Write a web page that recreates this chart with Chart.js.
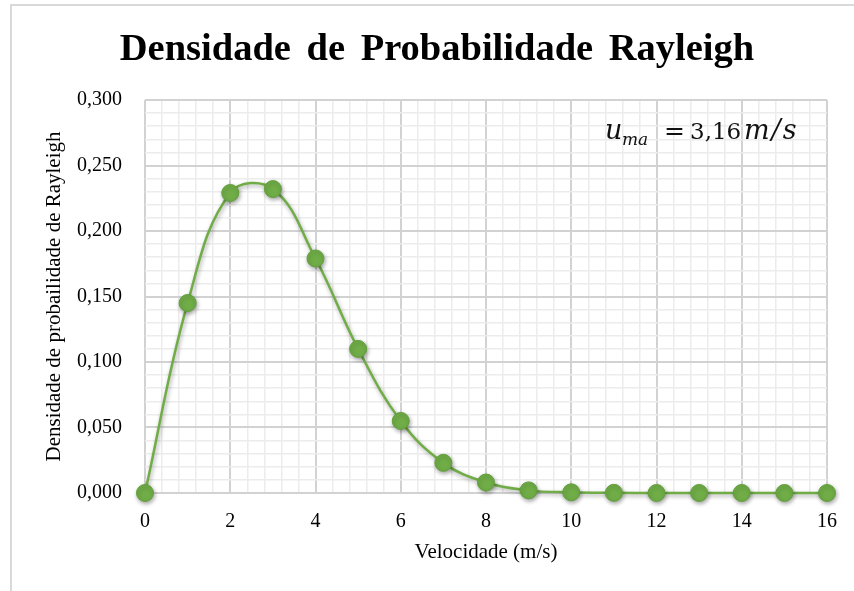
<!DOCTYPE html>
<html>
<head>
<meta charset="utf-8">
<script src="https://cdn.jsdelivr.net/npm/chart.js@4.4.1/dist/chart.umd.min.js"></script>
<style>
  html, body { margin: 0; padding: 0; background: #fff; }
  #wrap { position: relative; width: 854px; height: 591px; overflow: hidden; }
  #frame { position: absolute; left: 10px; top: 4px; width: 900px; height: 700px;
           border-top: 2px solid #d9d9d9; border-left: 2px solid #d9d9d9; }
  #rayleigh { position: absolute; left: 0; top: 0; }
</style>
</head>
<body>
<div id="wrap">
  <div id="frame"></div>
  <canvas id="rayleigh" width="854" height="591"></canvas>
</div>
<script>
// ---- Data ----
const velocities = [0, 1, 2, 3, 4, 5, 6, 7, 8, 9, 10, 11, 12, 13, 14, 15, 16];
const densities = [0.000, 0.145, 0.229, 0.232, 0.179, 0.110, 0.055, 0.023, 0.008, 0.002,
                   0.0005, 0.0001, 0.000, 0.000, 0.000, 0.000, 0.000];
const xTickLabels = ['0', '2', '4', '6', '8', '10', '12', '14', '16'];
const yTickLabels = ['0,000', '0,050', '0,100', '0,150', '0,200', '0,250', '0,300'];

const GREEN = '#70AD47';
const serif = '"Liberation Serif", "Times New Roman", serif';
const mathFont = '"DejaVu Serif", serif';

// ---- Helpers for major / minor grid ----
function isMajorX(v) { return Math.round(v * 10) % 20 === 0; }
function isMajorY(v) { return Math.round(v * 1000) % 50 === 0; }

// ---- Chart title ----
const titlePlugin = {
    id: 'chartHeading',
    afterDraw(chart) {
        const ctx = chart.ctx;
        ctx.save();
        ctx.font = 'bold 38.5px ' + serif;
        ctx.fillStyle = '#000';
        ctx.textAlign = 'center';
        ctx.textBaseline = 'alphabetic';
        if ('wordSpacing' in ctx) ctx.wordSpacing = '6px';
        ctx.fillText('Densidade de Probabilidade Rayleigh', 437, 60);
        ctx.restore();
    }
};

// ---- Drop shadow under markers ----
const shadowPlugin = {
    id: 'markerShadow',
    beforeDatasetsDraw(chart) {
        const ctx = chart.ctx;
        ctx.save();
        ctx.shadowColor = 'rgba(0,0,0,0.35)';
        ctx.shadowBlur = 4;
        ctx.shadowOffsetX = 1;
        ctx.shadowOffsetY = 2;
    },
    afterDatasetsDraw(chart) {
        chart.ctx.restore();
    }
};

// ---- Mean speed note: u_ma = 3,16 m/s ----
const notePlugin = {
    id: 'meanNote',
    afterDraw(chart) {
        const ctx = chart.ctx;
        const base = 139;
        const parts = [
            { t: 'u', x: 605, font: 'italic 27px ' + mathFont, dy: 0, ls: 0 },
            { t: 'ma', x: 622, font: 'italic 17px ' + mathFont, dy: 6, ls: 0 },
            { t: '=', x: 664, font: '25px ' + mathFont, dy: 0, ls: 0 },
            { t: '3,16', x: 690, font: '23px ' + mathFont, dy: 0, ls: 0 },
            { t: 'm/s', x: 744, font: 'italic 27px ' + mathFont, dy: 0, ls: 2 }
        ];
        ctx.save();
        ctx.fillStyle = '#111';
        ctx.textBaseline = 'alphabetic';
        parts.forEach(p => {
            ctx.font = p.font;
            if ('letterSpacing' in ctx) ctx.letterSpacing = p.ls + 'px';
            ctx.fillText(p.t, p.x, base + p.dy);
        });
        ctx.restore();
    }
};

// ---- Chart ----
function initRayleighChart() {
    const ctx = document.getElementById('rayleigh');

    new Chart(ctx, {
        type: 'line',
        data: {
            datasets: [{
                data: velocities.map((v, i) => ({ x: v, y: densities[i] })),
                borderColor: GREEN,
                borderWidth: 2.5,
                backgroundColor: GREEN,
                pointBackgroundColor: GREEN,
                pointBorderColor: '#62a03c',
                pointBorderWidth: 1,
                pointRadius: 8.5,
                tension: 0.4,
                clip: false,
                fill: false
            }]
        },
        options: {
            responsive: false,
            animation: false,
            layout: { padding: { left: 0, right: 26, top: 100, bottom: 22 } },
            plugins: {
                legend: { display: false },
                tooltip: { enabled: false },
                title: { display: false }
            },
            scales: {
                x: {
                    type: 'linear',
                    min: 0,
                    max: 16,
                    border: { display: false },
                    afterFit(scale) { scale.height = 76; },
                    ticks: {
                        stepSize: 0.4,
                        autoSkip: false,
                        maxRotation: 0,
                        padding: 17,
                        color: '#000',
                        font: { family: serif, size: 20 },
                        callback(v) {
                            return isMajorX(v) ? xTickLabels[Math.round(v / 2)] : '';
                        }
                    },
                    grid: {
                        drawTicks: false,
                        color: c => isMajorX(c.tick.value) ? '#d2d2d2' : '#ececec',
                        lineWidth: c => isMajorX(c.tick.value) ? 2 : 1.5
                    },
                    title: {
                        display: true,
                        text: 'Velocidade (m/s)',
                        color: '#000',
                        font: { family: serif, size: 21 },
                        padding: { top: 4, bottom: 4 }
                    }
                },
                y: {
                    min: 0,
                    max: 0.3,
                    border: { display: false },
                    afterFit(scale) { scale.width = 145; },
                    ticks: {
                        stepSize: 0.01,
                        autoSkip: false,
                        padding: 23,
                        color: '#000',
                        font: { family: serif, size: 20 },
                        callback(v) {
                            return isMajorY(v) ? yTickLabels[Math.round(v / 0.05)] : '';
                        }
                    },
                    grid: {
                        drawTicks: false,
                        color: c => isMajorY(c.tick.value) ? '#d2d2d2' : '#ececec',
                        lineWidth: c => isMajorY(c.tick.value) ? 2 : 1.5
                    },
                    title: {
                        display: true,
                        text: 'Densidade de probailidade de Rayleigh',
                        color: '#000',
                        font: { family: serif, size: 21 },
                        padding: { top: 42 }
                    }
                }
            }
        },
        plugins: [shadowPlugin, notePlugin, titlePlugin]
    });
}

initRayleighChart();
</script>
</body>
</html>
